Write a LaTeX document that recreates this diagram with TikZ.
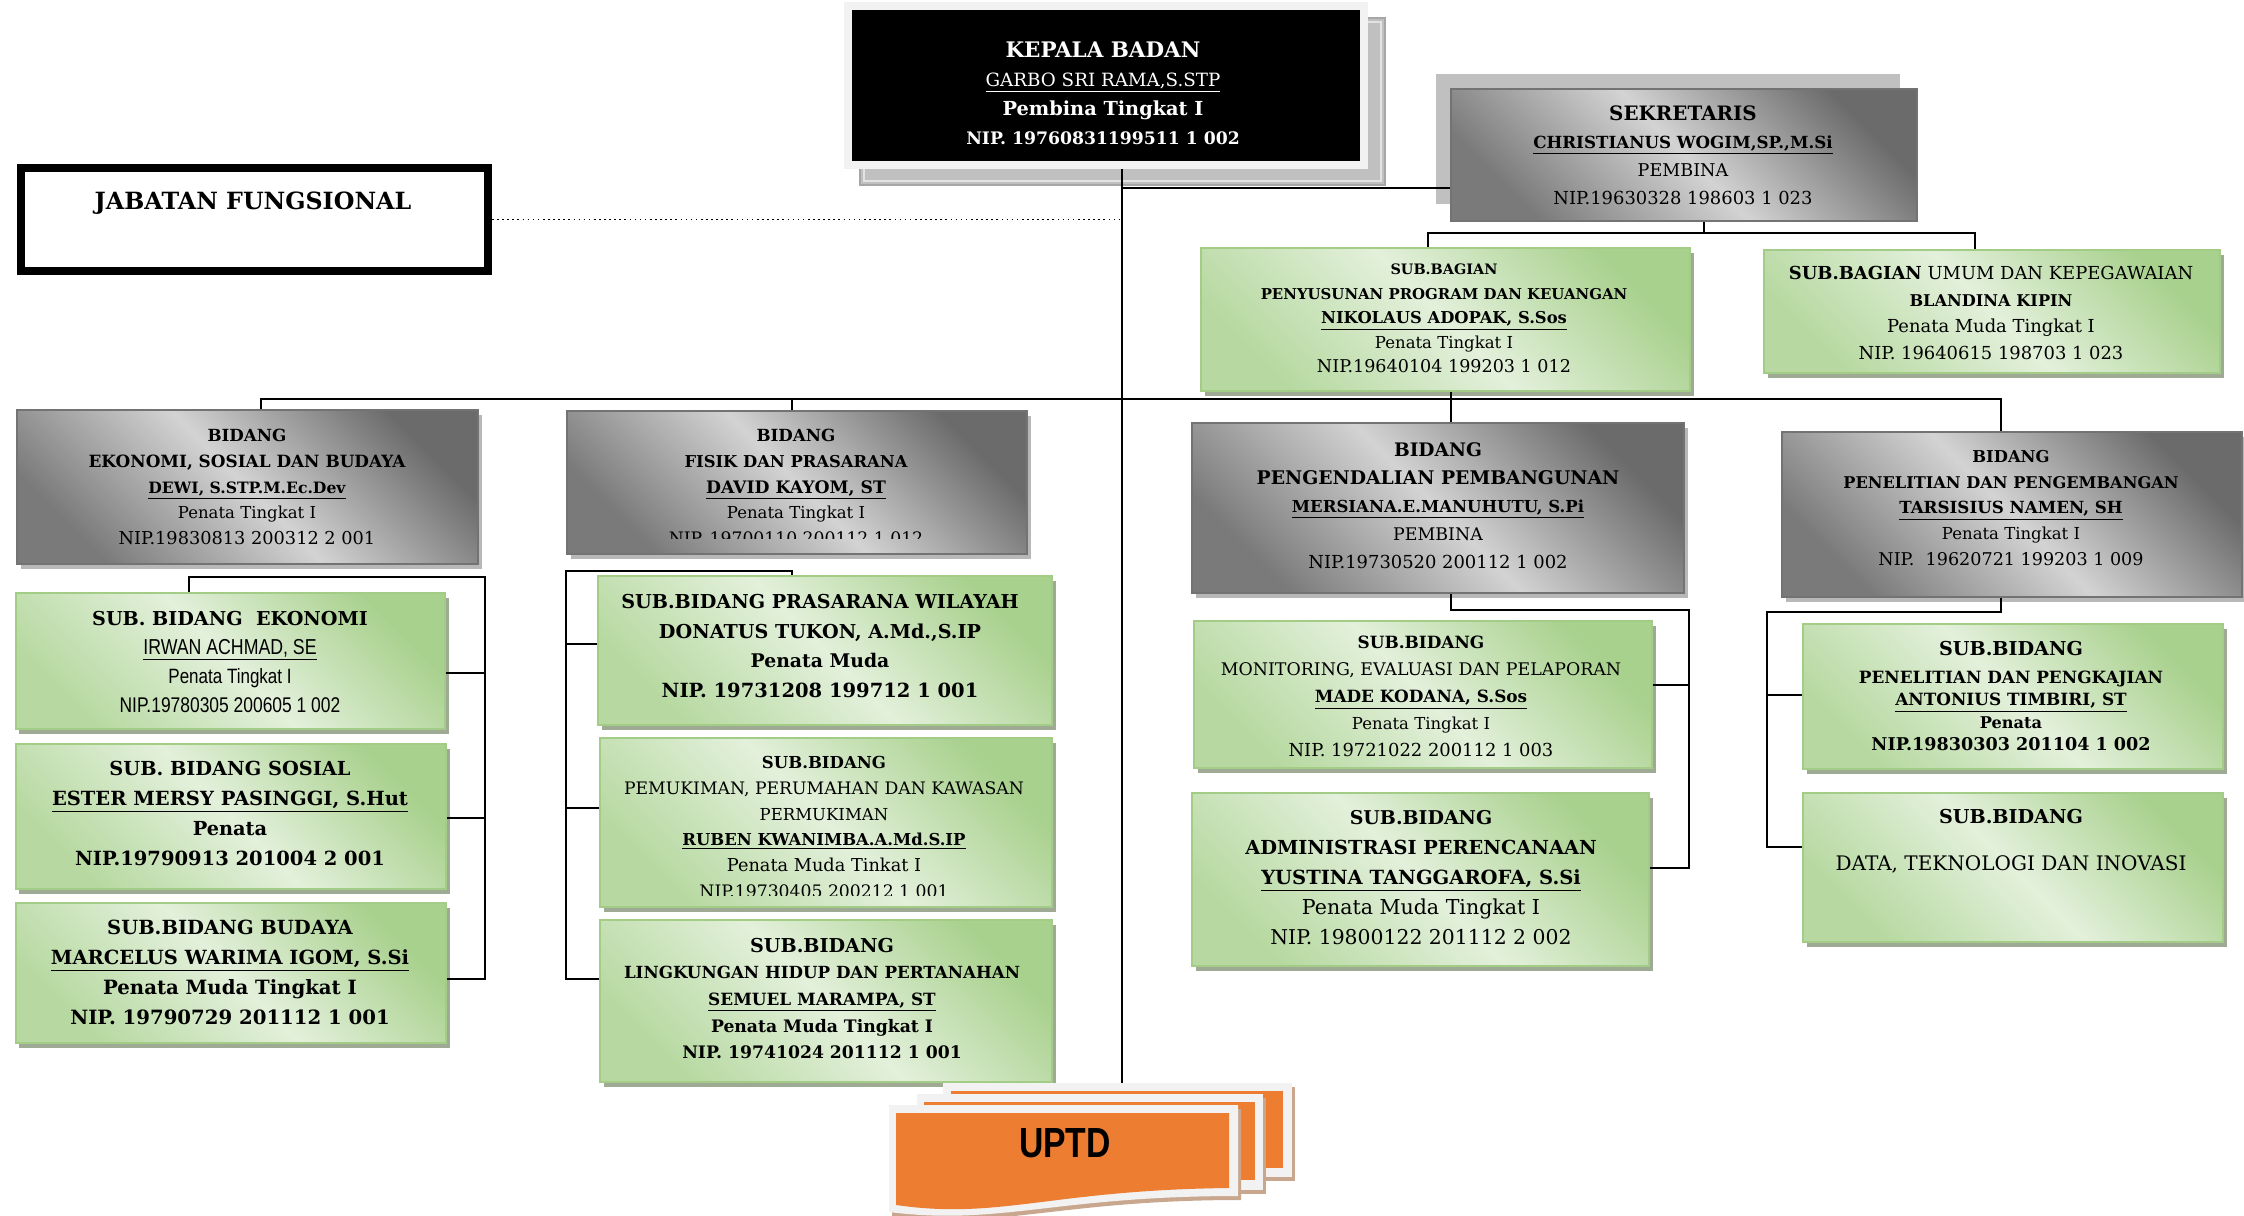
\documentclass[tikz,border=0pt]{standalone}
\usepackage{fontspec}
\setmainfont{DejaVu Serif}
\newfontfamily\narrowsans[FakeStretch=0.82]{Liberation Sans}
\newfontfamily\uptdfont[FakeStretch=0.8]{Liberation Sans}
\usetikzlibrary{shadows,calc,fit}
\definecolor{grn1}{HTML}{A9D18E}
\definecolor{grn2}{HTML}{E3F0DB}
\definecolor{grn3}{HTML}{B7D9A1}
\definecolor{grnln}{HTML}{A3CD87}
\definecolor{grnsh}{HTML}{9FAA94}
\definecolor{gry1}{HTML}{6B6B6B}
\definecolor{gry2}{HTML}{D3D3D3}
\definecolor{gry3}{HTML}{7A7A7A}
\definecolor{gryln}{HTML}{737373}
\definecolor{grysh}{HTML}{B8B8B8}
\definecolor{kfr}{HTML}{F2F2F2}
\definecolor{kshd}{HTML}{C0C0C0}
\definecolor{kshdln}{HTML}{A6A6A6}
\definecolor{kshdin}{HTML}{E3E3E3}
\definecolor{sekback}{HTML}{C0C0C0}
\definecolor{uor}{HTML}{ED7D31}
\definecolor{ufr}{HTML}{F2F2F2}
\definecolor{ush}{HTML}{C9A78F}
\newcommand\fz[1]{\fontsize{#1}{\the\baselineskip}\selectfont}
\newcommand\lsk[1]{\fontsize{10}{#1}\selectfont}
\tikzset{
  conn/.style={line width=1.1pt, draw=black},
  grnbox/.style={draw=grnln, line width=1.1pt, top color=grn1, bottom color=grn3, middle color=grn2, shading angle=-45,
    drop shadow={shadow xshift=0.07cm, shadow yshift=-0.1cm, fill=grnsh, opacity=1}, inner sep=0pt},
  grayfill/.style={draw=gryln, line width=0.9pt, top color=gry1, bottom color=gry3, middle color=gry2, shading angle=-45, inner sep=0pt},
  graybox/.style={grayfill, drop shadow={shadow xshift=0.08cm, shadow yshift=-0.1cm, fill=grysh, opacity=1}},
  txt/.style={align=center, inner sep=0pt, text=black},
}
\begin{document}
\begin{tikzpicture}[x=0.02cm, y=-0.02cm]
\useasboundingbox (0,0) rectangle (2244,1216);
\fill[white] (0,0) rectangle (2244,1216);

% ---------- KEPALA BADAN ----------
\path[fill=kshd, draw=kshdln, line width=0.6pt] (860,18) rectangle (1385,185);
\draw[kshdin, line width=0.8pt] (864,22) rectangle (1381,181);
\node[fit={(848,6)(1364,165)}, inner sep=0pt, fill=black, draw=kfr, line width=4.5pt] (kepala) {};
\node[txt, text=white, font={\lsk{16.4pt}}] (kepala-t) at (1103,93.5) {%
  {\fz{12.2}\bfseries KEPALA BADAN}\\
  {\fz{10.4}\underline{GARBO SRI RAMA,S.STP}}\\
  {\fz{11}\bfseries Pembina Tingkat I}\\
  {\fz{9.8}\bfseries NIP. 19760831199511 1 002}};

% ---------- JABATAN FUNGSIONAL ----------
\node[fit={(20.5,167.5)(488.5,271.5)}, inner sep=0pt, draw=black, line width=4pt, fill=white] (jab) {};
\draw[line width=1.1pt] ($(jab.north west)+(7.5,7.5)$) rectangle ($(jab.south east)+(-7.5,-7.5)$);
\node[txt] (jab-t) at (253,203) {\fz{13.5}\bfseries JABATAN FUNGSIONAL};

% ---------- SEKRETARIS ----------
\fill[sekback] (1436,74) rectangle (1900,204);
\node[grayfill, fit={(1451,89)(1917,221)}] (sekr) {};
\node[txt, font={\lsk{15.9pt}}] (sekr-t) at (1683,155) {%
  {\fz{11.3}\bfseries SEKRETARIS}\\
  {\fz{9.5}\bfseries\underline{CHRISTIANUS WOGIM,SP.,M.Si}}\\
  {\fz{10}PEMBINA}\\
  {\fz{10.2}NIP.19630328 198603 1 023}};

% ---------- SUB BAGIAN ----------
\node[grnbox, fit={(1201,248)(1690,391)}] (penyus) {};
\node[txt, font={\lsk{14pt}}] (penyus-t) at (1444,318.5) {%
  {\fz{8.2}\bfseries SUB.BAGIAN}\\
  {\fz{8.5}\bfseries PENYUSUNAN PROGRAM DAN KEUANGAN}\\
  {\fz{9.3}\bfseries\underline{NIKOLAUS ADOPAK, S.Sos}}\\
  {\fz{9.4}Penata Tingkat I}\\
  {\fz{10}NIP.19640104 199203 1 012}};

\node[grnbox, fit={(1764,250)(2220,373)}] (umum) {};
\node[txt, font={\lsk{15.3pt}}] (umum-t) at (1991,313) {%
  {\fz{10.2}{\bfseries SUB.BAGIAN} UMUM DAN KEPEGAWAIAN}\\
  {\fz{9.2}\bfseries BLANDINA KIPIN}\\
  {\fz{10.2}Penata Muda Tingkat I}\\
  {\fz{10.2}NIP. 19640615 198703 1 023}};

% ---------- BIDANG ----------
\node[graybox, fit={(17,410)(478,564)}] (bek) {};
\node[txt, font={\lsk{14.7pt}}] (bek-t) at (247,487) {%
  {\fz{9.5}\bfseries BIDANG}\\
  {\fz{9.6}\bfseries EKONOMI, SOSIAL DAN BUDAYA}\\
  {\fz{8.9}\bfseries\underline{DEWI, S.STP.M.Ec.Dev}}\\
  {\fz{9.4}Penata Tingkat I}\\
  {\fz{10.1}NIP.19830813 200312 2 001}};

\node[graybox, fit={(567,411)(1027,554)}] (bfp) {};
\begin{scope}
\clip (567,411) rectangle (1027,538);
\node[txt, font={\lsk{14.7pt}}] (bfp-t) at (796,487) {%
  {\fz{9.5}\bfseries BIDANG}\\
  {\fz{9.3}\bfseries FISIK DAN PRASARANA}\\
  {\fz{9.8}\bfseries\underline{DAVID KAYOM, ST}}\\
  {\fz{9.4}Penata Tingkat I}\\
  {\fz{9.8}NIP. 19700110 200112 1 012}};
\end{scope}

\node[graybox, fit={(1192,423)(1684,593)}] (bpp) {};
\node[txt, font={\lsk{15.9pt}}] (bpp-t) at (1438,505.5) {%
  {\fz{10.6}\bfseries BIDANG}\\
  {\fz{10.7}\bfseries PENGENDALIAN PEMBANGUNAN}\\
  {\fz{9.4}\bfseries\underline{MERSIANA.E.MANUHUTU, S.Pi}}\\
  {\fz{9.9}PEMBINA}\\
  {\fz{10.2}NIP.19730520 200112 1 002}};

\node[graybox, fit={(1782,432)(2242,597)}] (bpl) {};
\node[txt, font={\lsk{14.7pt}}] (bpl-t) at (2011,508) {%
  {\fz{9.3}\bfseries BIDANG}\\
  {\fz{9.2}\bfseries PENELITIAN DAN PENGEMBANGAN}\\
  {\fz{9.5}\bfseries\underline{TARSISIUS NAMEN, SH}}\\
  {\fz{9.4}Penata Tingkat I}\\
  {\fz{10}NIP.\ \ 19620721 199203 1 009}};

% ---------- SUB BIDANG: EKONOMI ----------
\node[grnbox, fit={(16,593)(445,729)}] (sek) {};
\node[txt, font={\lsk{16.4pt}}] (sek-t) at (230,662) {%
  {\fz{10.9}\bfseries SUB.\ BIDANG\ \ EKONOMI}\\
  {\narrowsans\fz{12.3}\underline{IRWAN ACHMAD, SE}}\\
  {\narrowsans\fz{11.8}Penata Tingkat I}\\
  {\narrowsans\fz{12.1}NIP.19780305 200605 1 002}};

\node[grnbox, fit={(16,744)(446,889)}] (sso) {};
\node[txt, font={\lsk{17pt}\bfseries}] (sso-t) at (230,813.5) {%
  {\fz{11}SUB.\ BIDANG SOSIAL}\\
  {\fz{11.1}\underline{ESTER MERSY PASINGGI, S.Hut}}\\
  {\fz{11}Penata}\\
  {\fz{11.1}NIP.19790913 201004 2 001}};

\node[grnbox, fit={(16,903)(446,1043)}] (sbu) {};
\node[txt, font={\lsk{17pt}\bfseries}] (sbu-t) at (230,972.5) {%
  {\fz{11.1}SUB.BIDANG BUDAYA}\\
  {\fz{11.1}\underline{MARCELUS WARIMA IGOM, S.Si}}\\
  {\fz{11.2}Penata Muda Tingkat I}\\
  {\fz{11.2}NIP. 19790729 201112 1 001}};

% ---------- SUB BIDANG: FISIK ----------
\node[grnbox, fit={(598,576)(1052,725)}] (spw) {};
\node[txt, font={\lsk{17pt}\bfseries}] (spw-t) at (820,646) {%
  {\fz{10.9}SUB.BIDANG PRASARANA WILAYAH}\\
  {\fz{10.9}DONATUS TUKON, A.Md.,S.IP}\\
  {\fz{10.7}Penata Muda}\\
  {\fz{11.1}NIP. 19731208 199712 1 001}};

\node[grnbox, fit={(600,738)(1052,907)}] (spk) {};
\begin{scope}
\clip (600,738) rectangle (1052,895);
\node[txt, font={\lsk{14.7pt}}] (spk-t) at (824,827) {%
  {\fz{9.4}\bfseries SUB.BIDANG}\\
  {\fz{9.8}PEMUKIMAN, PERUMAHAN DAN KAWASAN}\\
  {\fz{9.4}PERMUKIMAN}\\
  {\fz{9.35}\bfseries\underline{RUBEN KWANIMBA.A.Md.S.IP}}\\
  {\fz{10.1}Penata Muda Tinkat I}\\
  {\fz{9.8}NIP.19730405 200212 1 001}};
\end{scope}

\node[grnbox, fit={(600,920)(1052,1082)}] (slh) {};
\node[txt, font={\lsk{15.2pt}\bfseries}] (slh-t) at (822,998.5) {%
  {\fz{10.9}SUB.BIDANG}\\
  {\fz{9.5}LINGKUNGAN HIDUP DAN PERTANAHAN}\\
  {\fz{9.6}\underline{SEMUEL MARAMPA, ST}}\\
  {\fz{9.8}Penata Muda Tingkat I}\\
  {\fz{9.8}NIP. 19741024 201112 1 001}};

% ---------- SUB BIDANG: PENGENDALIAN ----------
\node[grnbox, fit={(1194,621)(1652,768)}] (smo) {};
\node[txt, font={\lsk{15.3pt}}] (smo-t) at (1421,696.5) {%
  {\fz{9.6}\bfseries SUB.BIDANG}\\
  {\fz{9.9}MONITORING, EVALUASI DAN PELAPORAN}\\
  {\fz{9.6}\bfseries\underline{MADE KODANA, S.Sos}}\\
  {\fz{9.4}Penata Tingkat I}\\
  {\fz{10.2}NIP. 19721022 200112 1 003}};

\node[grnbox, fit={(1192,793)(1649,966)}] (sap) {};
\node[txt, font={\lsk{17pt}}] (sap-t) at (1421,877.5) {%
  {\fz{10.8}\bfseries SUB.BIDANG}\\
  {\fz{11}\bfseries ADMINISTRASI PERENCANAAN}\\
  {\fz{11.1}\bfseries\underline{YUSTINA TANGGAROFA, S.Si}}\\
  {\fz{11.7}Penata Muda Tingkat I}\\
  {\fz{11.6}NIP. 19800122 201112 2 002}};

% ---------- SUB BIDANG: PENELITIAN ----------
\node[grnbox, fit={(1803,624)(2223,769)}] (spp) {};
\node[txt, font={\lsk{12.8pt}\bfseries}] (spp-t) at (2011,696) {%
  {\fz{10.9}SUB.BIDANG}\\[3pt]
  {\fz{9.6}PENELITIAN DAN PENGKAJIAN}\\
  {\fz{9.6}\underline{ANTONIUS TIMBIRI, ST}}\\
  {\fz{9.2}Penata}\\
  {\fz{10}NIP.19830303 201104 1 002}};

\node[grnbox, fit={(1803,793)(2223,942)}] (sdt) {};
\node[txt, font={\lsk{26.6pt}}] (sdt-t) at (2011,841.5) {%
  {\fz{10.9}\bfseries SUB.BIDANG}\\
  {\fz{11.4}DATA, TEKNOLOGI DAN INOVASI}};

% ---------- UPTD (stacked cards) ----------
\fill[ush] (946,1087) rectangle (1295,1181);
\fill[ufr] (943,1083) rectangle (1292,1177);
\fill[uor] (951,1091) rectangle (1283,1168);
\fill[ush] (920,1098) rectangle (1266,1194);
\fill[ufr] (917,1094) rectangle (1263,1190);
\fill[uor] (924,1102) rectangle (1255,1180);
\fill[ush] (892,1109) -- (1241,1109) -- (1241,1200) .. controls (1058,1200) and (1003,1230) .. (892,1216) -- cycle;
\fill[ufr] (889,1105) -- (1238,1105) -- (1238,1196) .. controls (1055,1196) and (1000,1226) .. (889,1212) -- cycle;
\fill[uor] (896,1113) -- (1229,1113) -- (1229,1188) .. controls (1050,1190) and (1000,1220) .. (896,1205) -- cycle;
\node[txt] (uptd) at (1065,1143) {\uptdfont\bfseries\fz{24}UPTD};

% ---------- CONNECTORS ----------
\coordinate (spine) at (1122,0);
\coordinate (uptdtop) at (1122,1083);
\draw[conn] (kepala.south -| spine) -- (uptdtop);
\draw[line width=0.9pt, dotted] (jab.east) -- (jab.east -| spine);
\coordinate (sekin) at ($(sekr.west)+(0,33)$);
\draw[conn] (sekin -| spine) -- (sekin);

% sekretaris -> sub bagian
\coordinate (sbh) at ($(sekr.south)+(20,11)$);
\coordinate (sb1) at ($(penyus.north)+(-17.5,0)$);
\coordinate (sb2) at ($(umum.north)+(-17,0)$);
\draw[conn] ($(sekr.south)+(20,0)$) -- (sbh);
\draw[conn] (sb1) -- (sb1 |- sbh) -- (sb2 |- sbh) -- (sb2);

% bidang bar
\coordinate (bbar) at (0,399);
\coordinate (b1) at ($(bek.north)+(13.5,0)$);
\coordinate (b2) at ($(bfp.north)+(-5,0)$);
\coordinate (b3) at ($(bpp.north)+(13,0)$);
\coordinate (b4) at ($(bpl.north)+(-11,0)$);
\draw[conn] (b1) -- (b1 |- bbar) -- (b4 |- bbar) -- (b4);
\draw[conn] (b2) -- (b2 |- bbar);
\draw[conn] (b3) -- (b3 |- bbar);
\draw[conn] (penyus.south -| b3) -- (b3 |- bbar);

% ekonomi sub bracket
\coordinate (e0) at (485,577);
\coordinate (ek0) at ($(sek.north)+(-41.5,0)$);
\coordinate (ek1) at ($(sek.east)+(0,12)$);
\coordinate (ek2) at ($(sso.east)+(0,1.5)$);
\coordinate (ek3) at ($(sbu.east)+(0,6)$);
\draw[conn] (ek0) |- (e0) -- (e0 |- ek3) -- (ek3);
\draw[conn] (ek1) -- (ek1 -| e0);
\draw[conn] (ek2) -- (ek2 -| e0);

% fisik sub bracket
\coordinate (f0) at (566,571);
\coordinate (fk0) at ($(spw.north)+(-33,0)$);
\coordinate (fk1) at ($(spw.west)+(0,-6.5)$);
\coordinate (fk2) at ($(spk.west)+(0,-14.5)$);
\coordinate (fk3) at ($(slh.west)+(0,-22)$);
\draw[conn] (fk0) |- (f0) -- (f0 |- fk3) -- (fk3);
\draw[conn] (fk1) -- (fk1 -| f0);
\draw[conn] (fk2) -- (fk2 -| f0);

% pengendalian sub bracket
\coordinate (p0) at (1689,610);
\coordinate (pk0) at ($(bpp.south)+(13,0)$);
\coordinate (pk1) at ($(smo.east)+(0,-9.5)$);
\coordinate (pk2) at ($(sap.east)+(0,-11.5)$);
\draw[conn] (pk0) |- (p0) -- (p0 |- pk2) -- (pk2);
\draw[conn] (pk1) -- (pk1 -| p0);

% penelitian sub bracket
\coordinate (q0) at (1767,612);
\coordinate (qk0) at ($(bpl.south)+(-11,0)$);
\coordinate (qk1) at ($(spp.west)+(0,-1.5)$);
\coordinate (qk2) at ($(sdt.west)+(0,-20.5)$);
\draw[conn] (qk0) |- (q0) -- (q0 |- qk2) -- (qk2);
\draw[conn] (qk1) -- (qk1 -| q0);
\end{tikzpicture}
\end{document}
